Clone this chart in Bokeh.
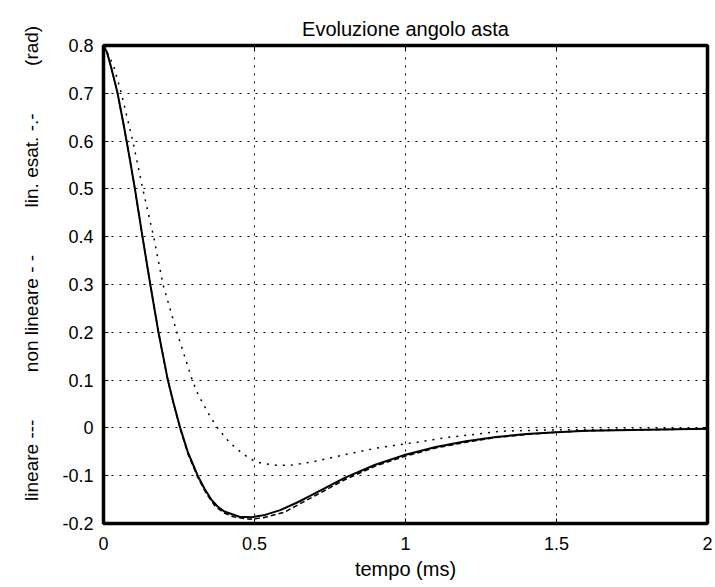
from bokeh.plotting import figure
from bokeh.models import Range1d, LinearAxis, FixedTicker
from bokeh.embed import file_html
from bokeh.resources import INLINE

# ---- data ----
t_lineare = [0.0, 0.012, 0.025, 0.045, 0.065, 0.085, 0.104, 0.129, 0.155, 0.182, 0.213,
             0.232, 0.254, 0.28, 0.312, 0.335, 0.357, 0.377, 0.40, 0.45, 0.49, 0.535,
             0.585, 0.645, 0.70, 0.80, 0.90, 1.0, 1.1, 1.2, 1.3, 1.4, 1.5, 1.6, 1.8, 2.0]
y_lineare = [0.800, 0.785, 0.755, 0.705, 0.640, 0.570, 0.500, 0.400, 0.300, 0.200, 0.100,
             0.052, 0.000, -0.052, -0.100, -0.128, -0.150, -0.164, -0.175, -0.186, -0.187, -0.182,
             -0.172, -0.155, -0.137, -0.104, -0.077, -0.056, -0.040, -0.028, -0.019, -0.013,
             -0.009, -0.006, -0.004, -0.002]

t_nonlin = [0.0, 0.012, 0.025, 0.045, 0.065, 0.085, 0.104, 0.129, 0.155, 0.182, 0.213,
            0.232, 0.254, 0.28, 0.312, 0.34, 0.37, 0.40, 0.43, 0.484, 0.53, 0.60, 0.70,
            0.80, 0.90, 1.0, 1.1, 1.2, 1.3, 1.4, 1.5, 1.6, 1.8, 2.0]
y_nonlin = [0.800, 0.785, 0.755, 0.705, 0.640, 0.570, 0.500, 0.400, 0.300, 0.200, 0.100,
            0.050, -0.002, -0.055, -0.103, -0.137, -0.164, -0.178, -0.186, -0.191, -0.188,
            -0.176, -0.142, -0.108, -0.080, -0.059, -0.042, -0.030, -0.020, -0.014, -0.009,
            -0.006, -0.004, -0.002]

t_esat = [0.0, 0.025, 0.036, 0.059, 0.097, 0.130, 0.166, 0.197, 0.243, 0.294, 0.313,
          0.352, 0.38, 0.418, 0.457, 0.484, 0.506, 0.534, 0.573, 0.62, 0.694, 0.805,
          0.915, 1.026, 1.137, 1.236, 1.313, 1.424, 1.5, 1.7, 2.0]
y_esat = [0.800, 0.769, 0.752, 0.700, 0.600, 0.500, 0.400, 0.300, 0.200, 0.100, 0.070,
          0.025, -0.002, -0.031, -0.052, -0.064, -0.071, -0.075, -0.078, -0.078, -0.071, -0.055,
          -0.041, -0.031, -0.020, -0.013, -0.007, -0.005, -0.004, -0.003, -0.002]

x_ticks = [0, 0.5, 1, 1.5, 2]
x_tick_labels = ["0", "0.5", "1", "1.5", "2"]
y_ticks = [-0.2, -0.1, 0, 0.1, 0.2, 0.3, 0.4, 0.5, 0.6, 0.7, 0.8]
y_tick_labels = ["-0.2", "-0.1", "0", "0.1", "0.2", "0.3", "0.4", "0.5", "0.6", "0.7", "0.8"]

title_text = "Evoluzione angolo asta"
x_label = "tempo (ms)"
gap = "\u00a0" * 9
lead = "\u00a0" * 8
y_label = lead + "lineare ---" + gap + "non lineare - -" + gap + "lin. esat. -.-" + gap + "(rad)"

FONT = "Liberation Sans"

p = figure(width=715, height=587, output_backend="svg", toolbar_location=None,
           x_range=Range1d(0, 2), y_range=Range1d(-0.2, 0.8),
           min_border_left=103, min_border_right=8, min_border_top=45, min_border_bottom=64,
           title=title_text)

p.background_fill_color = "white"
p.border_fill_color = "white"
p.outline_line_color = "black"
p.outline_line_width = 3.5

p.title.align = "center"
p.title.text_font = FONT
p.title.text_font_size = "20px"
p.title.text_font_style = "normal"
p.title.text_color = "black"
p.title.standoff = 12

# axes
for ax in (p.xaxis[0], p.yaxis[0]):
    ax.axis_line_color = None
    ax.major_tick_in = 5
    ax.major_tick_out = 0
    ax.minor_tick_line_color = None
    ax.major_tick_line_color = "black"
    ax.major_tick_line_width = 1
    ax.major_label_text_font = FONT
    ax.major_label_text_font_size = "18px"
    ax.major_label_text_color = "black"
    ax.axis_label_text_font = FONT
    ax.axis_label_text_font_style = "normal"
    ax.axis_label_text_color = "black"

p.xaxis[0].ticker = FixedTicker(ticks=x_ticks)
p.xaxis[0].major_label_overrides = dict(zip(x_ticks, x_tick_labels))
p.xaxis[0].major_label_standoff = 13
p.xaxis[0].axis_label = x_label
p.xaxis[0].axis_label_text_font_size = "20px"
p.xaxis[0].axis_label_standoff = 5

p.yaxis[0].ticker = FixedTicker(ticks=y_ticks)
p.yaxis[0].major_label_overrides = dict(zip(y_ticks, y_tick_labels))
p.yaxis[0].major_label_standoff = 10
p.yaxis[0].axis_label = y_label
p.yaxis[0].axis_label_text_font_size = "19px"
p.yaxis[0].axis_label_standoff = 17

# box ticks on top and right (no labels)
for side, ticks in (("right", y_ticks), ("above", x_ticks)):
    ax = LinearAxis(ticker=FixedTicker(ticks=ticks))
    ax.axis_line_color = None
    ax.major_tick_in = 5
    ax.major_tick_out = 0
    ax.minor_tick_line_color = None
    ax.major_tick_line_color = "black"
    ax.major_label_text_font_size = "1px"
    ax.major_label_text_color = None
    ax.major_label_standoff = 0
    p.add_layout(ax, side)

# grid
for g in (p.xgrid[0], p.ygrid[0]):
    g.grid_line_color = "black"
    g.grid_line_dash = "2 6"
    g.grid_line_width = 1
p.xgrid[0].ticker = FixedTicker(ticks=x_ticks)
p.ygrid[0].ticker = FixedTicker(ticks=y_ticks)

# curves
p.line(t_esat, y_esat, line_color="black", line_width=1.5, line_dash="2 6")
p.line(t_nonlin, y_nonlin, line_color="black", line_width=1.5, line_dash="5 3")
p.line(t_lineare, y_lineare, line_color="black", line_width=2)

open("out.html", "w").write(file_html(p, INLINE))
